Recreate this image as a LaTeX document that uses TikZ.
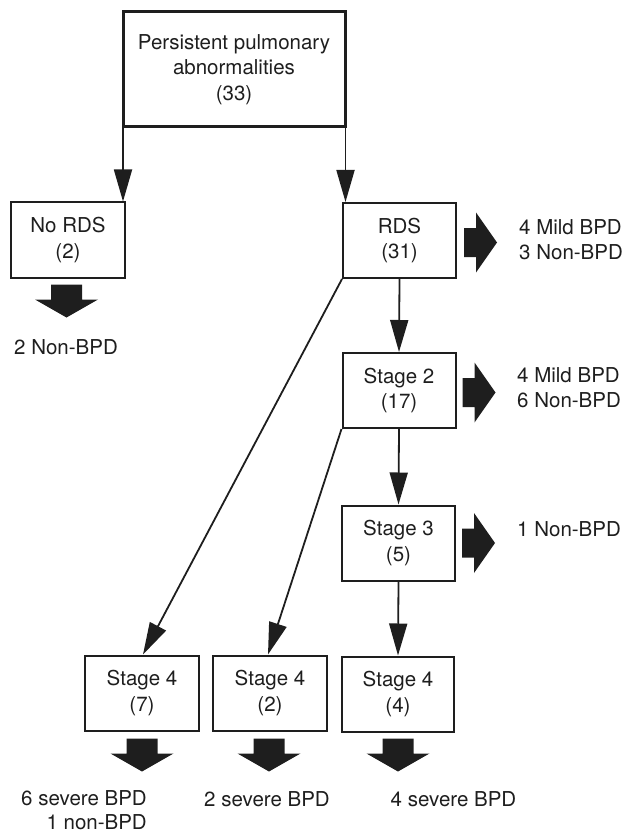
\documentclass[tikz,border=0pt]{standalone}
\usepackage{fontspec}
\setmainfont{TeX Gyre Heros}
\usetikzlibrary{arrows.meta,calc}
\definecolor{ink}{HTML}{1E1E1E}
\tikzset{
  box/.style={draw=ink, line width=2pt, minimum width=113pt, minimum height=75pt,
    align=center, inner sep=0pt, text=ink, font=\fontsize{20.5}{25.5}\selectfont},
  topbox/.style={box, line width=3pt, minimum width=222pt, minimum height=115pt},
  lbl/.style={inner sep=0pt, text=ink, font=\fontsize{20.5}{25}\selectfont},
  conn/.style={draw=ink, line width=1.8pt, -{Triangle[length=32pt,width=18pt]}},
  fatright/.pic={\fill[ink] (0,-14.5) -- (12,-14.5) -- (12,-30) -- (33,0) -- (12,30) -- (12,14.5) -- (0,14.5) -- cycle;},
  fatdown/.pic={\fill[ink] (-15.5,0) -- (15.5,0) -- (15.5,15) -- (31.5,15) -- (0,33) -- (-31.5,15) -- (-15.5,15) -- cycle;}
}
\begin{document}
\begin{tikzpicture}[x=1pt,y=-1pt]
\useasboundingbox (0,0) rectangle (626,834);
\node[topbox] (top) at (234,69.5) {Persistent pulmonary\\abnormalities\\(33)};
\node[box, minimum width=114pt] (nords) at (68,240) {No RDS\\(2)};
\node[box] (rds) at (399.5,240.5) {RDS\\(31)};
\node[box] (s2) at (399,390.5) {Stage 2\\(17)};
\node[box] (s3) at (398.5,543) {Stage 3\\(5)};
\node[box, minimum width=114pt] (s4a) at (142,693) {Stage 4\\(7)};
\node[box, minimum width=114pt] (s4b) at (270,693) {Stage 4\\(2)};
\node[box, minimum width=112pt] (s4c) at (398,694) {Stage 4\\(4)};
% thin arrows
\draw[conn] (top.south west) ++(1.5,0) coordinate (tl) -- (tl |- nords.north);
\draw[conn] (top.south east) ++(-1,0) coordinate (tr) -- (tr |- rds.north);
\draw[conn] (rds.south) -- (s2.north);
\draw[conn] (s2.south) -- (s3.north);
\draw[conn] (s3.south) -- (s4c.north);
\draw[conn] (rds.south west) -- ($(s4a.north)+(1,0)$);
\draw[conn] (s2.south west) -- ($(s4b.north)+(-2,0)$);
% fat arrows
\pic at ($(rds.east)+(7,2)$) {fatright};
\pic at ($(s2.east)+(6,2)$) {fatright};
\pic at ($(s3.east)+(6,0)$) {fatright};
\pic at ($(nords.south)+(-1.5,6)$) {fatdown};
\pic at ($(s4a.south)+(0,7)$) {fatdown};
\pic at ($(s4b.south)+(-1,7)$) {fatdown};
\pic at ($(s4c.south)+(0,6)$) {fatdown};
% outcome labels
\node[lbl, anchor=west, align=left] (o1) at (519,240) {4 Mild BPD\\3 Non-BPD};
\node[lbl, anchor=west, align=left] (o2) at (517,388) {4 Mild BPD\\6 Non-BPD};
\node[lbl, anchor=west] (o3) at (517,529) {1 Non-BPD};
\node[lbl] (o0) at (66,347) {2 Non-BPD};
\node[lbl, align=right, font=\fontsize{20.5}{24}\selectfont] (o4) at (84,810) {6 severe BPD\\1 non-BPD};
\node[lbl] (o5) at (267,799) {2 severe BPD};
\node[lbl] (o6) at (453.5,799) {4 severe BPD};
\end{tikzpicture}
\end{document}
